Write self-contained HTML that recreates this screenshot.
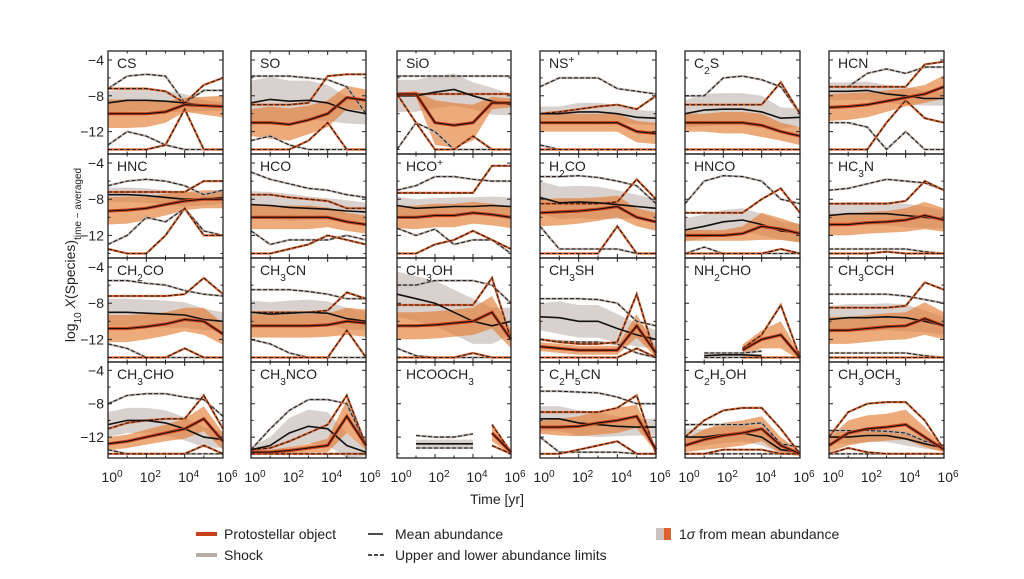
<!DOCTYPE html>
<html><head><meta charset="utf-8"><style>
body{margin:0;background:#fff;}
svg{display:block;font-family:"Liberation Sans","DejaVu Sans",sans-serif;}
</style></head><body>
<svg id="chart" width="1024" height="579" viewBox="0 0 1024 579" xmlns="http://www.w3.org/2000/svg">
<rect width="1024" height="579" fill="#fff"/>
<g id="panels"></g>
<text transform="translate(75,255) rotate(-90)" text-anchor="middle" font-size="14" fill="#222">log<tspan font-size="10" baseline-shift="sub">10</tspan> <tspan font-style="italic">X</tspan>(Species)<tspan font-size="10" baseline-shift="sub">time − averaged</tspan></text>
<text x="497" y="504" text-anchor="middle" font-size="14" fill="#222">Time [yr]</text>
<g font-size="14" fill="#222">
<line x1="196" y1="534" x2="217" y2="534" stroke="#c8401a" stroke-width="4"/>
<text x="224" y="539">Protostellar object</text>
<line x1="196" y1="555" x2="217" y2="555" stroke="#b8aca6" stroke-width="4"/>
<text x="224" y="560">Shock</text>
<line x1="368" y1="534" x2="383" y2="534" stroke="#111" stroke-width="1.5"/>
<text x="395" y="539">Mean abundance</text>
<line x1="368" y1="555" x2="384" y2="555" stroke="#111" stroke-width="1.5" stroke-dasharray="4,2"/>
<text x="395" y="560">Upper and lower abundance limits</text>
<rect x="656" y="528" width="8" height="12" fill="#cdc3be"/>
<rect x="664" y="528" width="7" height="12" fill="#e0602a"/>
<text x="679" y="539">1<tspan font-style="italic">σ</tspan> from mean abundance</text>
</g>
</svg>
<script>
const species = ["CS","SO","SiO","NS^+","C_2S","HCN","HNC","HCO","HCO^+","H_2CO","HNCO","HC_3N","CH_2CO","CH_3CN","CH_3OH","CH_3SH","NH_2CHO","CH_3CCH","CH_3CHO","CH_3NCO","HCOOCH_3","C_2H_5CN","C_2H_5OH","CH_3OCH_3"];
const logTime = [0,1,2,3,4,5,6];
const N = null;
const shockMean = [
[-8.8,-8.5,-8.5,-8.6,-8.8,-9.1,-9.2],[-8.8,-8.4,-8.6,-8.5,-8.8,-9.6,-10],[-8,-8,-7.6,-7.3,-8,-8.6,-9],[-10,-10,-9.8,-9.8,-10,-10.4,-10.5],[-10,-9.6,-9.5,-9.5,-9.8,-10.5,-10.4],[-7.5,-7.5,-7.4,-7.8,-8,-8.3,-8.3],
[-7.5,-7.5,-7.6,-7.8,-8,-8,-7.8],[-8.6,-8.7,-8.9,-9,-9.1,-9.3,-9.4],[-8.7,-9,-8.9,-8.8,-8.8,-8.7,-8.8],[-7.8,-8.4,-8.3,-8.4,-8.6,-8.8,-9],[-11.4,-11,-10.5,-10.3,-10.8,-11.5,-11.7],[-9.8,-9.6,-9.6,-9.6,-9.8,-10,-10.2],
[-9,-9,-9.1,-9.2,-9.3,-9.8,-10],[-9,-9.2,-9.1,-9,-9.1,-9.7,-10],[-7,-7.5,-8,-9,-10,-10.5,-10],[-9.5,-9.6,-10,-10,-10.8,-11.5,-12],[N,-13.8,-13.7,-13.7,-13.8,N,N],[-9.8,-9.6,-9.6,-9.5,-9.6,-10,-10.5],
[-10.5,-10,-10,-10.3,-11,-12,-12.3],[-13.5,-13,-11.5,-10.7,-11,-13,-13.8],[N,-12.8,-12.8,-12.8,-12.8,N,N],[-9.8,-9.8,-10.3,-10.5,-10.7,-10.8,-10.8],[-12,-12,-11.7,-11.5,-12,-13.5,-13.8],[-12,-12,-11.8,-11.8,-12.2,-12.8,-13.3]];
const shockSigma = [
[1.3,1.3,1.2,1.2,1,0.6,0.5],[2.5,2.5,2.3,2.2,2,1.5,1.2],[1.8,1.8,1.8,1.8,1.5,1.5,1.2],[0.8,0.8,1,1,1,0.8,0.8],[1.5,1.8,1.8,1.8,1.8,1.2,1],[1,1,1,1,1,0.8,0.8],
[0.8,0.8,0.8,0.8,0.8,0.7,0.7],[1.5,1.5,1.5,1.3,1.2,1.2,1],[1,1,1,1,1,1,1],[1.8,1.8,1.8,1.8,1.6,1.3,1],[1.3,1.3,1.3,1.3,1.2,1,1],[1.3,1.3,1.3,1.3,1.3,1.2,1],
[1.5,1.5,1.5,1.5,1.4,1.2,1],[1.3,1.3,1.4,1.4,1.3,1.2,1],[2.5,2.5,2.5,2.5,2.5,2,1.5],[1.5,1.8,1.8,1.8,1.6,1.3,1],[N,0.2,0.2,0.2,0.2,N,N],[1.5,1.5,1.5,1.5,1.5,1.2,1],
[1.5,1.5,1.5,1.5,1.4,1.2,1],[0.4,1,1.8,2,2,1.5,0.5],[N,0.5,0.5,0.5,0.5,N,N],[1.5,1.5,1.5,1.5,1.2,1,1],[1,1,1,1,1,0.5,0.3],[0.8,0.8,0.8,0.8,0.8,0.6,0.4]];
const shockUpper = [
[-7.2,-5.8,-5.6,-5.8,-8.8,-7.4,-7.4],[-5.8,-5.8,-5.8,-6,-6.2,-7,-10],[-5.8,-5.8,-5.8,-5.8,-5.8,-5.8,-5.8],[-7,-6,-6,-6,-7.2,-7.5,-7.8],[-8,-8,-6,-5.8,-6.2,-7,-10],[-7,-7,-5.5,-5,-5.5,-4.8,-4.8],
[-6.5,-6,-5.8,-6,-6.5,-7.5,-7],[-5,-5.8,-6.3,-6.8,-7,-7.5,-7.8],[-7,-6.5,-5.5,-5.5,-5.8,-6,-6],[-5.5,-5.5,-5.4,-5.6,-6,-6.5,-8.5],[-8.5,-6,-5.4,-5.5,-6,-8,-8.5],[-7,-6.8,-6.3,-5.8,-6,-6.2,-7],
[-5.5,-5.5,-5.8,-6,-6.6,-7,-7.2],[-6.5,-6.5,-6.5,-6.7,-7,-7.5,-7.5],[-6,-6,-5.5,-5.5,-5.5,-6,-8],[-7.5,-7.5,-7.5,-7.6,-8,-10,-10.5],[N,-13.5,-13.5,-13.5,-13.3,N,N],[-7,-7,-7,-7,-7.2,-7.6,-8],
[-8,-7,-6.8,-6.8,-7.2,-7.5,-9.5],[-13.5,-11,-8.8,-7.5,-7.5,-8,-13],[N,-11.8,-12,-12,-11.6,N,N],[-6.5,-6.5,-6.6,-6.7,-7.2,-8,-8],[-10.5,-10.5,-10.5,-10.5,-10.3,-12.8,-13.2],[-11.2,-11.2,-11.2,-11.3,-11.5,-12.5,-13]];
const shockLower = [
[-13.5,-12,-12.5,-13.5,-14,-14,-14],[-13,-12.5,-13.5,-14,-14,-14,-14],[-14,-11,-12,-14,-14,-14,-14],[-13.5,-14,-14,-14,-14,-14,-14],[-14,-14,-14,-14,-14,-14,-14],[-11,-11,-11.5,-14,-12,-14,-14],
[-13,-12,-10,-10.5,-9,-11.5,-12],[-11.5,-13,-12.5,-12.5,-12.5,-12,-12.5],[-11.2,-12,-11.3,-13,-12.5,-12.5,-14],[-11,-13.5,-13.5,-13.5,-13.5,-14,-14],[-14,-13.3,-14,-14,-14,-14,-14],[-13.5,-13.5,-13.5,-13.5,-13.5,-13.8,-14],
[-12.5,-13,-14,-14,-14,-14,-14],[-12,-12.5,-13.5,-14,-14,-14,-14],[-13,-13.8,-14,-14,-14,-14,-14],[-12,-12.2,-12.3,-12.3,-12.5,-13.5,-14],[N,-14,-14,-14,-14,N,N],[-13.5,-13.5,-13.5,-13.5,-13.5,-13.8,-14],
[-13.5,-14,-14,-14,-14,-14,-14],[-14,-14,-14,-14,-14,-14,-14],[N,-13.3,-13.3,-13.3,-13.3,N,N],[-12,-13.8,-13.8,-13.8,-13.8,-14,-14],[-14,-14,-14,-14,-14,-14,-14],[-14,-14,-14,-14,-14,-14,-14]];
const protoMean = [
[-10,-10,-10,-9.8,-9,-9.1,-9.2],[-11,-11,-11.2,-10.7,-10,-8.2,-8.5],[-7.8,-7.8,-11,-11.3,-11,-8.8,-8.8],[-11,-11,-11,-11,-11,-12,-12.2],[-11,-11,-11,-11,-11.3,-12,-12.5],[-9.3,-9.2,-9,-8.6,-8.2,-7.8,-7],
[-9.3,-9.2,-9,-8.6,-8.2,-8,-8],[-10,-10,-10,-10,-10,-10.5,-10.8],[-10,-10,-9.8,-9.8,-9.5,-9.7,-10],[-9.5,-9.4,-9.3,-9.1,-8.8,-10,-10.5],[-12,-12,-12,-11.8,-11,-11.3,-11.8],[-10.8,-10.8,-10.6,-10.5,-10.3,-9.8,-10.3],
[-10.8,-10.8,-10.6,-10.3,-9.8,-10,-11.4],[-10.5,-10.5,-10.5,-10.5,-10.4,-10,-10.2],[-10.5,-10.5,-10.4,-10.2,-10,-9,-12],[-12.8,-13,-13.2,-13.2,-13.2,-10.5,-13.5],[N,N,N,-13.2,-12,-11.5,-14],[-11,-11,-10.8,-10.6,-10.5,-9.7,-10.5],
[-12.8,-12.5,-12,-11.5,-11,-9.8,-12.5],[-13.8,-13.8,-13.6,-13.3,-13,-9.5,-13],[N,N,N,N,N,-11.5,-13.8],[-10.8,-10.8,-10.7,-10.3,-10,-9.5,-13.5],[-13,-12.3,-11.8,-11.5,-11,-13,-14],[-13,-11.5,-11,-10.8,-10.5,-12,-13.5]];
const protoSigma = [
[1.6,1.6,1.5,1.2,0.8,1,1.2],[1.5,1.8,1.8,1.6,1.5,1.3,1.2],[0.1,0.3,2.5,2.5,2,0.7,0.5],[1,1,1,1,1,1.2,1.2],[1,1,1.2,1.2,1.3,1,1],[1.5,1.5,1.4,1.2,1,1,1.3],
[1.5,1.5,1.3,1.2,1,1,1],[1.3,1.3,1.3,1.3,1.1,1,1],[1.2,1.3,1.3,1.3,1.2,1.2,1.2],[1.5,1.5,1.4,1.3,1.2,1,1],[0.6,0.6,0.6,0.8,1.5,1.2,1],[1.2,1.2,1.2,1.2,1.3,1.5,1.3],
[1.5,1.5,1.4,1.3,1.3,1.5,1.2],[1.3,1.3,1.3,1.3,1.3,1.5,1.5],[1.5,1.5,1.5,1.5,1.5,1.8,1],[0.5,0.5,0.5,0.5,0.5,1.3,0.5],[N,N,N,0.6,1,1.5,0.3],[1.5,1.5,1.5,1.5,1.5,1.8,1.5],
[0.8,0.8,0.9,1,1.2,1.5,1],[0.3,0.3,0.4,0.5,0.8,2,0.5],[N,N,N,N,N,1,0.3],[0.8,1,1.2,1.4,1.5,1.4,0.3],[0.8,1.2,1.5,1.5,1.5,1,0.3],[0.8,1.5,1.6,1.6,1.8,1.2,0.3]];
const protoUpper = [
[-7.2,-7.2,-7.2,-7.5,-8.8,-6.8,-6],[-9,-9,-9,-8.8,-5.8,-5.6,-5.6],[-7.8,-7.8,-7.8,-7.8,-7.8,-7.8,-7.8],[-10,-9.8,-9.5,-9.2,-9,-9.5,-8],[-9,-9,-9,-9,-9,-6.5,-10],[-7,-7,-7,-7,-7,-4.5,-4.2],
[-7.2,-7.2,-7.2,-7.2,-7.2,-6,-6],[-7.5,-7.5,-7.8,-8,-8.2,-9,-9],[-7.3,-7.3,-7.3,-7.3,-7.3,-4.3,-4.3],[-8.5,-8.5,-8.5,-8.5,-8.3,-5.8,-8],[-9.5,-9.5,-9.5,-9.5,-8,-6.8,-9.5],[-8.5,-8.5,-8.5,-8.5,-8.2,-6,-7],
[-7.2,-7.2,-7.2,-7.2,-7,-5.2,-7],[-9,-9,-9,-9,-8.8,-6.8,-7.5],[-8.2,-8.2,-8.2,-8.2,-8.2,-5.2,-12],[-12,-12.3,-12.5,-12.5,-12.3,-7,-14],[N,N,N,-13,-11.5,-8.2,-14],[-8.5,-8.5,-8.5,-8.5,-8.3,-5.7,-6.5],
[-11,-10.3,-10,-9.8,-9.8,-7,-11],[-13.5,-13.3,-12.5,-11.5,-10.5,-7,-13],[N,N,N,N,N,-10.5,-13.8],[-9,-9,-9,-9,-8.5,-7,-14],[-12,-10,-8.8,-8.5,-8.5,-11,-14],[-12,-9,-8,-7.8,-7.8,-10,-13.5]];
const protoLower = [
[-14,-14,-14,-13.5,-9.5,-14,-14],[-14,-14,-14,-13,-11,-14,-14],[-7.8,-11,-14,-14,-12.5,-14,-14],[-14,-14,-14,-14,-14,-14,-14],[-14,-14,-14,-14,-14,-14,-14],[-14,-14,-14,-11,-8.5,-10.5,-11],
[-13.5,-14,-14,-12,-9,-12,-12],[-14,-14,-13.5,-13,-12,-12.5,-13],[-14,-14,-13,-12.5,-11.5,-12.5,-13.5],[-14,-14,-14,-14,-11,-14,-14],[-14,-14,-14,-14,-14,-13.5,-14],[-14,-14,-14,-13.8,-14,-14,-14],
[-14,-14,-14,-14,-13,-14,-14],[-14,-14,-14,-14,-14,-11,-14],[-14,-14,-14,-14,-13.5,-14,-14],[-14,-14,-14,-14,-14,-13,-14],[N,N,N,-14,-14,-14,-14],[-14,-14,-14,-14,-14,-14,-14],
[-14,-14,-14,-14,-14,-13,-14],[-14,-14,-14,-14,-14,-14,-14],[N,N,N,N,N,-13,-14],[-14,-14,-13.5,-13,-12.5,-14,-14],[-14,-14,-13.5,-13.5,-13.5,-14,-14],[-14,-13.3,-13.8,-14,-14,-14,-14]];
const yTicks = [-4,-8,-12];
const xTickExps = [0,2,4,6];

const colX = [[108,223],[251,366],[397,511],[540,656],[685,800],[829,944]];
const rowY = [[51,154],[154,258],[258,362],[362,458]];
const YMIN=-14.5, YMAX=-3;
const NS="http://www.w3.org/2000/svg";
const root=document.getElementById('panels');
function mk(tag,attrs,parent){const e=document.createElementNS(NS,tag);for(const k in attrs)e.setAttribute(k,attrs[k]);parent.appendChild(e);return e;}
function clip(v){return Math.max(YMIN,Math.min(YMAX,v));}
function segments(arr){const segs=[];let cur=[];arr.forEach((v,i)=>{if(v===null){if(cur.length)segs.push(cur);cur=[];}else cur.push(i);});if(cur.length)segs.push(cur);return segs;}
function label(el,str,fs){
  const parts=str.match(/_\d|\^\+|[^_^]+/g);
  parts.forEach(p=>{const t=document.createElementNS(NS,'tspan');
    if(p[0]==='_'){t.textContent=p.slice(1);t.setAttribute('font-size',fs*0.72);t.setAttribute('baseline-shift','sub');}
    else if(p[0]==='^'){t.textContent=p.slice(1);t.setAttribute('font-size',fs*0.72);t.setAttribute('baseline-shift','super');}
    else {t.textContent=p;}
    el.appendChild(t);
  });
}
species.forEach((name,p)=>{
  const r=Math.floor(p/6), c=p%6;
  const [x0,x1]=colX[c], [y0,y1]=rowY[r];
  const xs=v=>x0+(v-0)/6*(x1-x0);
  const ys=v=>y1-(clip(v)-YMIN)/(YMAX-YMIN)*(y1-y0);
  const g=mk('g',{},root);
  
  
  function band(mean,sig,fill,nm){
    segments(mean).forEach(seg=>{
      let d='';seg.forEach((i,k)=>{d+=(k?'L':'M')+xs(logTime[i]).toFixed(1)+','+ys(mean[i]+sig[i]).toFixed(1);});
      for(let k=seg.length-1;k>=0;k--){const i=seg[k];d+='L'+xs(logTime[i]).toFixed(1)+','+ys(mean[i]-sig[i]).toFixed(1);}
      const e=mk('path',{d:d+'Z',fill:fill},g);
      
      
    });
  }
  function line(vals,attrs,nm){
    segments(vals).forEach(seg=>{
      const pts=seg.map(i=>xs(logTime[i]).toFixed(1)+','+ys(vals[i]).toFixed(1)).join(' ');
      const e=mk('polyline',Object.assign({points:pts,fill:'none'},attrs),g);
      
      
    });
  }
  band(shockMean[p],shockSigma[p],'rgba(196,184,178,0.65)','shock-sigma-band');
  band(protoMean[p],protoSigma[p],'rgba(228,124,52,0.65)','proto-sigma-band');
  line(shockUpper[p],{stroke:'#b8aca6','stroke-width':2.2},'shock-upper-limit-base');
  line(shockUpper[p],{stroke:'#222','stroke-width':1.1,'stroke-dasharray':'4,2'},'shock-upper-limit');
  line(shockLower[p],{stroke:'#b8aca6','stroke-width':2.2},'shock-lower-limit-base');
  line(shockLower[p],{stroke:'#222','stroke-width':1.1,'stroke-dasharray':'4,2'},'shock-lower-limit');
  line(protoUpper[p],{stroke:'#e0602a','stroke-width':2.2},'proto-upper-limit-base');
  line(protoUpper[p],{stroke:'#222','stroke-width':1.1,'stroke-dasharray':'4,2'},'proto-upper-limit');
  line(protoLower[p],{stroke:'#e0602a','stroke-width':2.2},'proto-lower-limit-base');
  line(protoLower[p],{stroke:'#222','stroke-width':1.1,'stroke-dasharray':'4,2'},'proto-lower-limit');
  line(shockMean[p],{stroke:'#111','stroke-width':1.6},'shock-mean-line');
  line(protoMean[p],{stroke:'#c8401a','stroke-width':3.2},'proto-mean-line-base');
  line(protoMean[p],{stroke:'#111','stroke-width':1.1},'proto-mean-line');
  const fr=mk('rect',{x:x0,y:y0,width:x1-x0,height:y1-y0,fill:'none',stroke:'#222','stroke-width':1.3},g);
  
  
  for(let e=0;e<=6;e++){const x=xs(e);const len=(e%2===0)?4:2.5;
    mk('line',{x1:x,y1:y1,x2:x,y2:y1-len,stroke:'#222','stroke-width':1},g);
    mk('line',{x1:x,y1:y0,x2:x,y2:y0+len,stroke:'#222','stroke-width':1},g);}
  for(let v=-14;v<=-4;v+=2){const y=ys(v);const len=(v%4===0)?4:2.5;
    mk('line',{x1:x0,y1:y,x2:x0+len,y2:y,stroke:'#222','stroke-width':1},g);
    mk('line',{x1:x1,y1:y,x2:x1-len,y2:y,stroke:'#222','stroke-width':1},g);}
  if(c===0){yTicks.forEach(v=>{const t=mk('text',{x:x0-4,y:ys(v)+5,'text-anchor':'end','font-size':14,fill:'#222'},g);
    
    
    t.textContent='−'+Math.abs(v);});}
  if(r===3){xTickExps.forEach(e=>{const t=mk('text',{x:xs(e)+4,y:482,'text-anchor':'middle','font-size':14,fill:'#222'},g);
    
    
    t.textContent='10';const s=document.createElementNS(NS,'tspan');s.setAttribute('baseline-shift','super');s.setAttribute('font-size',10);s.textContent=String(e);t.appendChild(s);});}
  const tt=mk('text',{x:x0+9,y:y0+17,'font-size':14,fill:'#222'},g);
  
  
  label(tt,name,14);
});
</script>
</body></html>
